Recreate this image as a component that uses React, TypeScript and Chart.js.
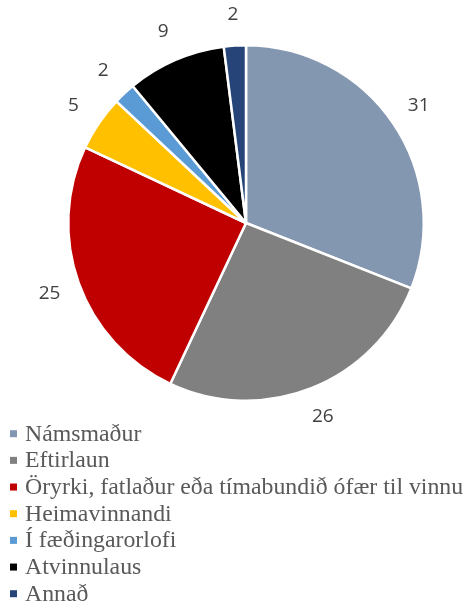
import React, { useEffect, useRef } from "react";
import { Chart, registerables } from "chart.js";

Chart.register(...registerables);

const categories = [
  "Námsmaður",
  "Eftirlaun",
  "Öryrki, fatlaður eða tímabundið ófær til vinnu",
  "Heimavinnandi",
  "Í fæðingarorlofi",
  "Atvinnulaus",
  "Annað",
];
const values = [31, 26, 25, 5, 2, 9, 2];
const colors = ["#8497B0", "#808080", "#C00000", "#FFC000", "#5B9BD5", "#000000", "#264478"];

const SERIF = "23.8px 'Liberation Serif', 'DejaVu Serif', 'Times New Roman', serif";
const SANS = "19px 'Open Sans', 'Liberation Sans', sans-serif";

const labelPlugin = {
  id: "outerLabels",
  afterDraw(chart: any) {
    const ctx = chart.ctx;
    const meta = chart.getDatasetMeta(0);
    ctx.save();
    ctx.font = SANS;
    ctx.fillStyle = "#404040";
    ctx.textAlign = "center";
    ctx.textBaseline = "middle";
    meta.data.forEach((arc: any, i: number) => {
      const { x, y, startAngle, endAngle, outerRadius } = arc.getProps(
        ["x", "y", "startAngle", "endAngle", "outerRadius"],
        true
      );
      const mid = (startAngle + endAngle) / 2;
      const r = outerRadius + 31;
      ctx.fillText(String(chart.data.datasets[0].data[i]), x + Math.cos(mid) * r, y + Math.sin(mid) * r);
    });
    // legend
    ctx.font = SERIF;
    ctx.textAlign = "left";
    ctx.textBaseline = "alphabetic";
    const firstBaseline = 440.7;
    const step = 26.67;
    chart.data.labels.forEach((lab: string, i: number) => {
      const base = firstBaseline + i * step;
      ctx.fillStyle = colors[i];
      ctx.fillRect(10, base - 10.5, 7, 7);
      ctx.fillStyle = "#595959";
      ctx.fillText(lab, 25, base);
    });
    ctx.restore();
  },
};

export default function App() {
  const ref = useRef<HTMLCanvasElement>(null);
  useEffect(() => {
    document.body.style.margin = "0";
    let chart: Chart | null = null;
    let cancelled = false;
    const make = () => {
      if (cancelled || !ref.current) return;
      chart = new Chart(ref.current, {
        type: "pie",
        data: {
          labels: categories,
          datasets: [
            {
              data: values,
              backgroundColor: colors,
              borderColor: "#ffffff",
              borderWidth: 2.5,
            },
          ],
        },
        options: {
          animation: false,
          responsive: false,
          layout: { padding: { left: 67, right: 43, top: 44, bottom: 202 } },
          plugins: { legend: { display: false }, tooltip: { enabled: false } },
        },
        plugins: [labelPlugin],
      });
    };
    Promise.all([document.fonts.load(SERIF, "Námsmaður"), document.fonts.load(SANS, "0123")])
      .catch(() => null)
      .then(make);
    return () => {
      cancelled = true;
      if (chart) chart.destroy();
    };
  }, []);
  return (
    <div style={{ width: 468, height: 604 }}>
      <canvas ref={ref} width={468} height={604} style={{ width: 468, height: 604, display: "block" }} />
    </div>
  );
}
